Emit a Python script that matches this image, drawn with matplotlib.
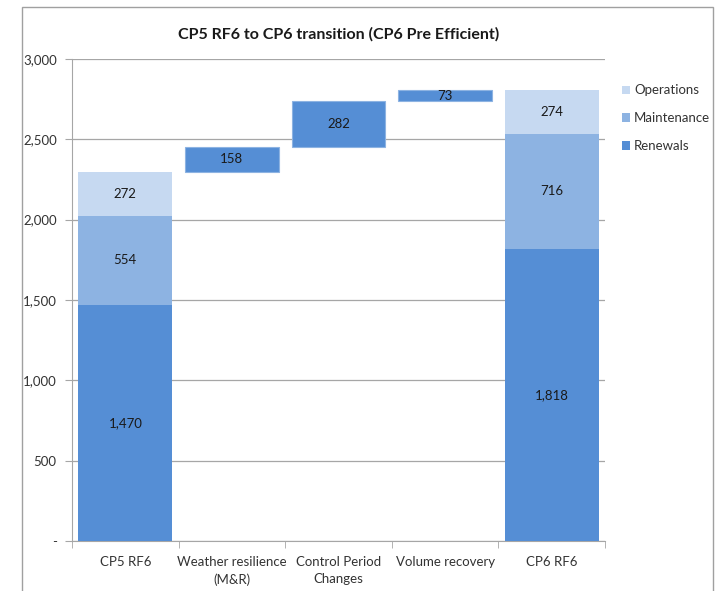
import numpy as np
import matplotlib.pyplot as plt
from matplotlib.patches import Rectangle
from matplotlib.ticker import FuncFormatter

plt.rcParams['font.family'] = ['Lato', 'DejaVu Sans']

# data
categories = ['CP5 RF6', 'Weather resilience\n(M&R)', 'Control Period\nChanges',
              'Volume recovery', 'CP6 RF6']
renewals = [1470, 1818]
maintenance = [554, 716]
operations = [272, 274]
steps = [158, 282, 73]

c_ren = '#558ed5'
c_mnt = '#8db3e2'
c_ops = '#c6d9f1'

fig = plt.figure(figsize=(7.18, 5.91), dpi=100)
ax = fig.add_axes([0.1003, 0.0846, 0.7423, 0.8156])

# outer chart frame
fig.patches.append(Rectangle((22 / 718, -0.01), 691 / 718, 1 - 7 / 591 + 0.01,
                             transform=fig.transFigure, fill=False,
                             edgecolor='#a0a0a0', linewidth=1))

x = np.arange(len(categories))
w = 0.88
ends = [0, 4]

# stacked start / end columns
for i, k in enumerate(ends):
    r, m, o = renewals[i], maintenance[i], operations[i]
    ax.bar(x[k], r, w, color=c_ren, label='Renewals' if i == 0 else None, zorder=3)
    ax.bar(x[k], m, w, bottom=r, color=c_mnt, label='Maintenance' if i == 0 else None, zorder=3)
    ax.bar(x[k], o, w, bottom=r + m, color=c_ops, label='Operations' if i == 0 else None, zorder=3)
    for val, base in [(r, 0), (m, r), (o, r + m)]:
        ax.text(x[k], base + val / 2, f'{val:,}', ha='center', va='center',
                fontsize=9.5, color='#1a1a1a', zorder=4)

# floating steps
base = renewals[0] + maintenance[0] + operations[0]
for j, s in enumerate(steps):
    ax.bar(x[j + 1], s, w, bottom=base, color=c_ren, edgecolor='#8db3e2',
           linewidth=0.8, zorder=3)
    ax.text(x[j + 1], base + s / 2, f'{s:,}', ha='center', va='center',
            fontsize=9.5, color='#1a1a1a', zorder=4)
    base += s

ax.set_xlim(-0.5, 4.5)
ax.set_ylim(0, 3000)
ax.set_yticks(np.arange(0, 3001, 500))
ax.yaxis.set_major_formatter(FuncFormatter(lambda v, p: '-' if v == 0 else f'{int(v):,}'))
ax.grid(axis='y', color='#a6a6a6', linewidth=0.9, zorder=0)

ax.set_xticks(x)
ax.set_xticklabels(categories, fontsize=9.5, color='#333333', linespacing=1.5)
ax.set_xticks(np.arange(-0.5, 5, 1), minor=True)
ax.tick_params(axis='x', which='major', length=0, pad=11)
ax.tick_params(axis='x', which='minor', length=5, color='#a6a6a6')
ax.tick_params(axis='y', length=5, color='#a6a6a6', labelsize=9.5,
               labelcolor='#333333', pad=6)

for side in ['top', 'right']:
    ax.spines[side].set_visible(False)
for side in ['left', 'bottom']:
    ax.spines[side].set_color('#a6a6a6')

ax.set_title('CP5 RF6 to CP6 transition (CP6 Pre Efficient)', fontsize=11.5,
             fontweight='bold', color='#1a1a1a', pad=15)

handles, labels = ax.get_legend_handles_labels()
order = [2, 1, 0]
ax.legend([handles[i] for i in order], [labels[i] for i in order],
          loc='upper left', bbox_to_anchor=(1.01, 0.972), frameon=False,
          fontsize=9.5, handlelength=0.6, handleheight=0.6, handletextpad=0.3,
          labelspacing=1.2, labelcolor='#333333')

plt.savefig('out.png', dpi=100)
